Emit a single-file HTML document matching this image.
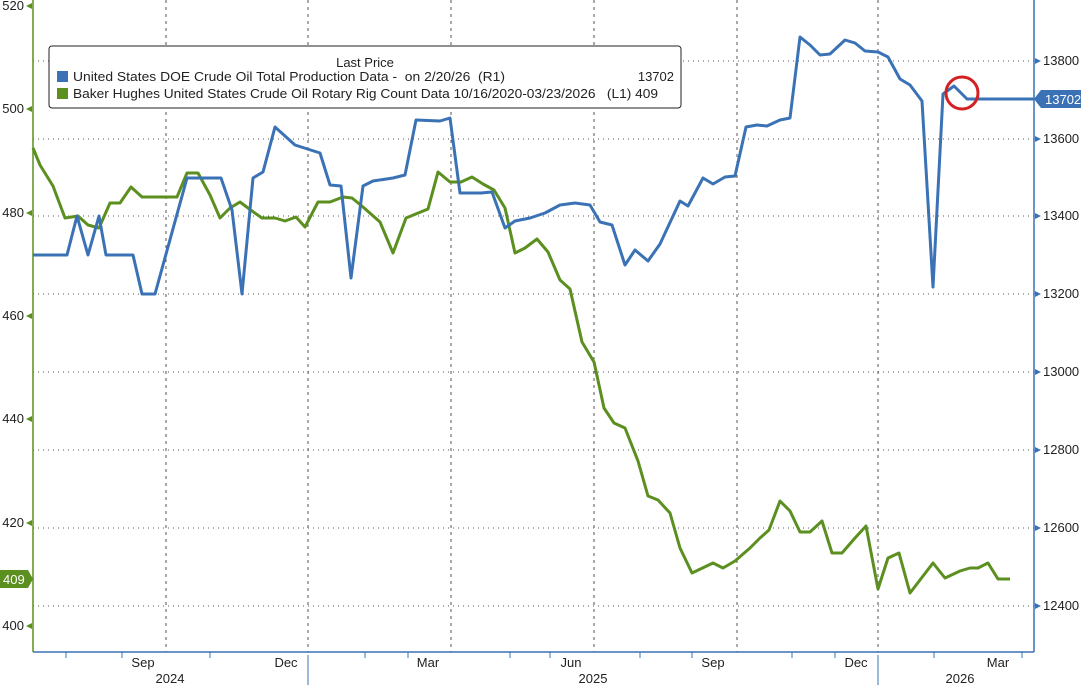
<!DOCTYPE html>
<html><head><meta charset="utf-8"><style>
body{margin:0;background:#fff;}
svg{display:block;font-family:"Liberation Sans Narrow","Liberation Sans",sans-serif;}
</style></head><body>
<svg width="1081" height="685" viewBox="0 0 1081 685">
<rect width="1081" height="685" fill="#fff"/>
<g stroke="#555" stroke-width="1" stroke-dasharray="1,4">
<line x1="33" x2="1034" y1="61" y2="61"/><line x1="33" x2="1034" y1="139" y2="139"/>
<line x1="33" x2="1034" y1="216" y2="216"/><line x1="33" x2="1034" y1="294" y2="294"/>
<line x1="33" x2="1034" y1="372" y2="372"/><line x1="33" x2="1034" y1="450" y2="450"/>
<line x1="33" x2="1034" y1="528" y2="528"/><line x1="33" x2="1034" y1="606" y2="606"/>
</g>
<g stroke="#555" stroke-width="1" stroke-dasharray="3,4">
<line x1="166" x2="166" y1="0" y2="652"/><line x1="308" x2="308" y1="0" y2="652"/>
<line x1="451" x2="451" y1="0" y2="652"/><line x1="594" x2="594" y1="0" y2="652"/>
<line x1="737" x2="737" y1="0" y2="652"/><line x1="878" x2="878" y1="0" y2="652"/>
</g>
<line x1="33" x2="33" y1="0" y2="652" stroke="#5b8f1f" stroke-width="1.5"/>
<line x1="1034" x2="1034" y1="0" y2="652" stroke="#3a72b5" stroke-width="1.5"/>
<line x1="33" x2="1034" y1="652" y2="652" stroke="#3a72b5" stroke-width="1.5"/>
<g stroke="#3a72b5" stroke-width="1">
<line x1="308" x2="308" y1="655" y2="685"/><line x1="878" x2="878" y1="655" y2="685"/>
<line x1="66" x2="66" y1="652" y2="658"/><line x1="122" x2="122" y1="652" y2="658"/>
<line x1="210" x2="210" y1="652" y2="658"/><line x1="365" x2="365" y1="652" y2="658"/>
<line x1="408" x2="408" y1="652" y2="658"/><line x1="510" x2="510" y1="652" y2="658"/>
<line x1="550" x2="550" y1="652" y2="658"/><line x1="640" x2="640" y1="652" y2="658"/>
<line x1="692" x2="692" y1="652" y2="658"/><line x1="792" x2="792" y1="652" y2="658"/>
<line x1="835" x2="835" y1="652" y2="658"/><line x1="934" x2="934" y1="652" y2="658"/>
<line x1="1022" x2="1022" y1="652" y2="658"/>
</g>
<g font-size="13" fill="#222" text-anchor="end">
<text x="24" y="10">520</text><text x="24" y="113">500</text><text x="24" y="217">480</text>
<text x="24" y="320">460</text><text x="24" y="423">440</text><text x="24" y="527">420</text><text x="24" y="630">400</text>
</g>
<g fill="#5b8f1f">
<polygon points="26,6 32,3 32,9"/><polygon points="26,109 32,106 32,112"/><polygon points="26,213 32,210 32,216"/>
<polygon points="26,316 32,313 32,319"/><polygon points="26,419 32,416 32,422"/><polygon points="26,523 32,520 32,526"/><polygon points="26,626 32,623 32,629"/>
</g>
<g font-size="13" fill="#222">
<text x="1043" y="65">13800</text><text x="1043" y="143">13600</text><text x="1043" y="220">13400</text>
<text x="1043" y="298">13200</text><text x="1043" y="376">13000</text><text x="1043" y="454">12800</text>
<text x="1043" y="532">12600</text><text x="1043" y="610">12400</text>
</g>
<g fill="#3a72b5">
<polygon points="1041,61 1035,58 1035,64"/><polygon points="1041,139 1035,136 1035,142"/><polygon points="1041,216 1035,213 1035,219"/>
<polygon points="1041,294 1035,291 1035,297"/><polygon points="1041,372 1035,369 1035,375"/><polygon points="1041,450 1035,447 1035,453"/>
<polygon points="1041,528 1035,525 1035,531"/><polygon points="1041,606 1035,603 1035,609"/>
</g>
<g font-size="13" fill="#222" text-anchor="middle">
<text x="143" y="667">Sep</text><text x="286" y="667">Dec</text><text x="428" y="667">Mar</text>
<text x="571" y="667">Jun</text><text x="713" y="667">Sep</text><text x="856" y="667">Dec</text><text x="998" y="667">Mar</text>
<text x="170" y="683">2024</text><text x="593" y="683">2025</text><text x="960" y="683">2026</text>
</g>
<polyline fill="none" stroke="#5b8f1f" stroke-width="3" stroke-linejoin="round" points="33,148 40,165 53,186 65,218 78,216 88,225 99,228 110,203 120,203 131,187 142,197 177,197 187,173 198,173 210,195 220,218 230,208 240,202 252,211 262,218 275,218 285,221 296,217 305,227 318,202 330,202 343,197 352,198 363,207 380,222 393,253 406,218 428,209 438,172 450,182 461,182 472,177 483,184 494,190 505,208 515,253 525,248 537,239 548,252 560,280 570,289 582,342 594,362 604,408 614,423 625,428 638,461 648,496 658,500 670,513 680,548 692,573 713,563 723,568 735,561 750,548 760,538 769,530 780,501 790,511 800,532 810,532 822,521 832,553 842,553 855,538 866,526 878,589 888,558 899,553 910,593 933,563 945,578 960,571 970,568 978,568 988,563 998,579 1010,579"/>
<polyline fill="none" stroke="#3a72b5" stroke-width="3" stroke-linejoin="round" points="33,255 67,255 77,216 88,255 99,216 106,255 133,255 142,294 155,294 187,178 221,178 232,210 242,294 253,178 263,172 275,127 295,145 320,153 330,185 341,186 351,278 363,186 373,181 393,178 405,175 416,120 440,121 450,118 460,193 481,193 492,192 505,228 515,221 530,218 545,213 560,205 575,203 590,205 600,222 612,225 625,265 635,250 648,261 660,244 680,201 688,206 703,178 713,184 725,177 735,176 746,127 757,125 767,126 780,120 790,118 800,37 810,45 820,55 830,54 845,40 855,43 865,51 878,52 888,57 900,79 910,85 922,101 933,287 943,94 954,86 967,99 1034,99"/>
<circle cx="962" cy="93" r="16" fill="none" stroke="#d42020" stroke-width="3"/>
<polygon points="1034,99 1041,90 1081,90 1081,108 1041,108" fill="#3a72b5"/>
<text x="1045" y="104" font-size="13" fill="#fff">13702</text>
<polygon points="0,570 28,570 33,579 28,588 0,588" fill="#5b8f1f"/>
<text x="3" y="584" font-size="13" fill="#fff">409</text>
<rect x="49" y="46" width="632" height="62" rx="3" fill="#fff" stroke="#222" stroke-width="1"/>
<text x="365" y="67" font-size="13" fill="#222" text-anchor="middle">Last Price</text>
<rect x="57" y="71" width="11" height="11" fill="#3a72b5"/>
<rect x="57" y="88" width="11" height="11" fill="#5b8f1f"/>
<text x="73" y="81" font-size="13" fill="#222" textLength="432" lengthAdjust="spacingAndGlyphs" xml:space="preserve">United States DOE Crude Oil Total Production Data -  on 2/20/26  (R1)</text>
<text x="674" y="81" font-size="13" fill="#222" text-anchor="end">13702</text>
<text x="73" y="98" font-size="13" fill="#222" textLength="585" lengthAdjust="spacingAndGlyphs" xml:space="preserve">Baker Hughes United States Crude Oil Rotary Rig Count Data 10/16/2020-03/23/2026   (L1) 409</text>
</svg>
</body></html>
